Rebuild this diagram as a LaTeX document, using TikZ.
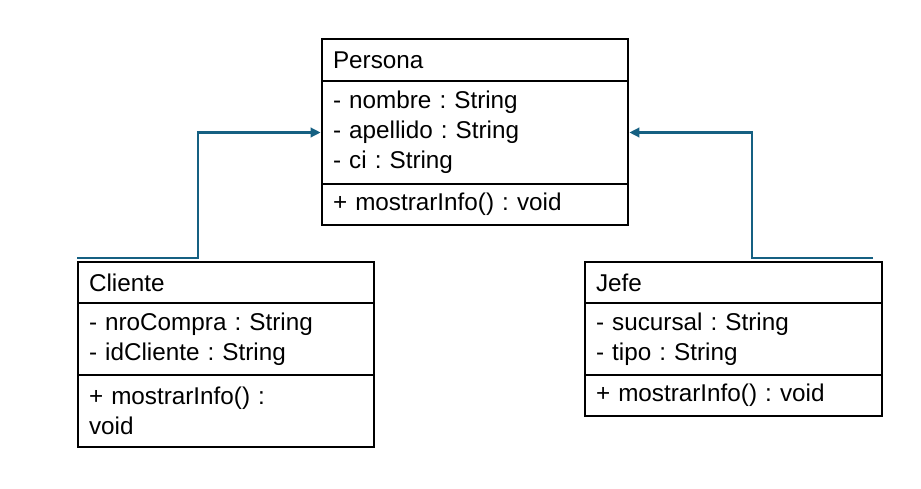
\documentclass[tikz,border=0pt]{standalone}
\usepackage{fontspec}
\setmainfont{Liberation Sans}
\usepackage{xcolor}
\usepackage{tikz}
\usetikzlibrary{arrows.meta, positioning}
\definecolor{linkblue}{HTML}{156082}
\frenchspacing

\begin{document}
\begin{tikzpicture}[x=0.75pt, y=-0.75pt,
    classpart/.style={draw, line width=1pt, inner xsep=8.25pt, inner ysep=0pt, outer sep=0pt, align=left, font=\fontsize{18.2}{22.5}\selectfont},
    inherit/.style={draw=linkblue, line width=2.1pt, -{Triangle[length=7.5pt, width=7pt]}, shorten >=1pt}]

        % Canvas
        \useasboundingbox (0,0) rectangle (921,489);

        % Persona
        \node[classpart, anchor=north west, text width=213pt, minimum height=31.5pt] (persona) at (322,39) {Persona};
        \node[classpart, below=0pt of persona, text width=213pt, minimum height=77.25pt] (personaattr) {- nombre : String\\- apellido : String\\- ci : String};
        \node[classpart, below=0pt of personaattr, text width=213pt, minimum height=30.75pt] (personameth) {+ mostrarInfo() : void};

        % Cliente
        \node[classpart, anchor=north west, text width=205.5pt, minimum height=30.75pt] (cliente) at (78,262) {Cliente};
        \node[classpart, below=0pt of cliente, text width=205.5pt, minimum height=54pt] (clienteattr) {- nroCompra : String\\- idCliente : String};
        \node[classpart, below=0pt of clienteattr, text width=205.5pt, minimum height=54pt] (clientemeth) {+ mostrarInfo() :\\void};

        % Jefe
        \node[classpart, anchor=north west, text width=206.25pt, minimum height=30.75pt] (jefe) at (585,262) {Jefe};
        \node[classpart, below=0pt of jefe, text width=206.25pt, minimum height=54pt] (jefeattr) {- sucursal : String\\- tipo : String};
        \node[classpart, below=0pt of jefeattr, text width=206.25pt, minimum height=30.75pt] (jefemeth) {+ mostrarInfo() : void};

        % Inheritance
        \coordinate (clientestub) at ([xshift=-0.75pt, yshift=3pt]cliente.north west);
        \coordinate (jefestub) at ([xshift=-6.75pt, yshift=3pt]jefe.north east);
        \draw[inherit] (clientestub) -- ++(121,0) |- (personaattr.west);
        \draw[inherit] (jefestub) -- ++(-121,0) |- (personaattr.east);

    \end{tikzpicture}
\end{document}
